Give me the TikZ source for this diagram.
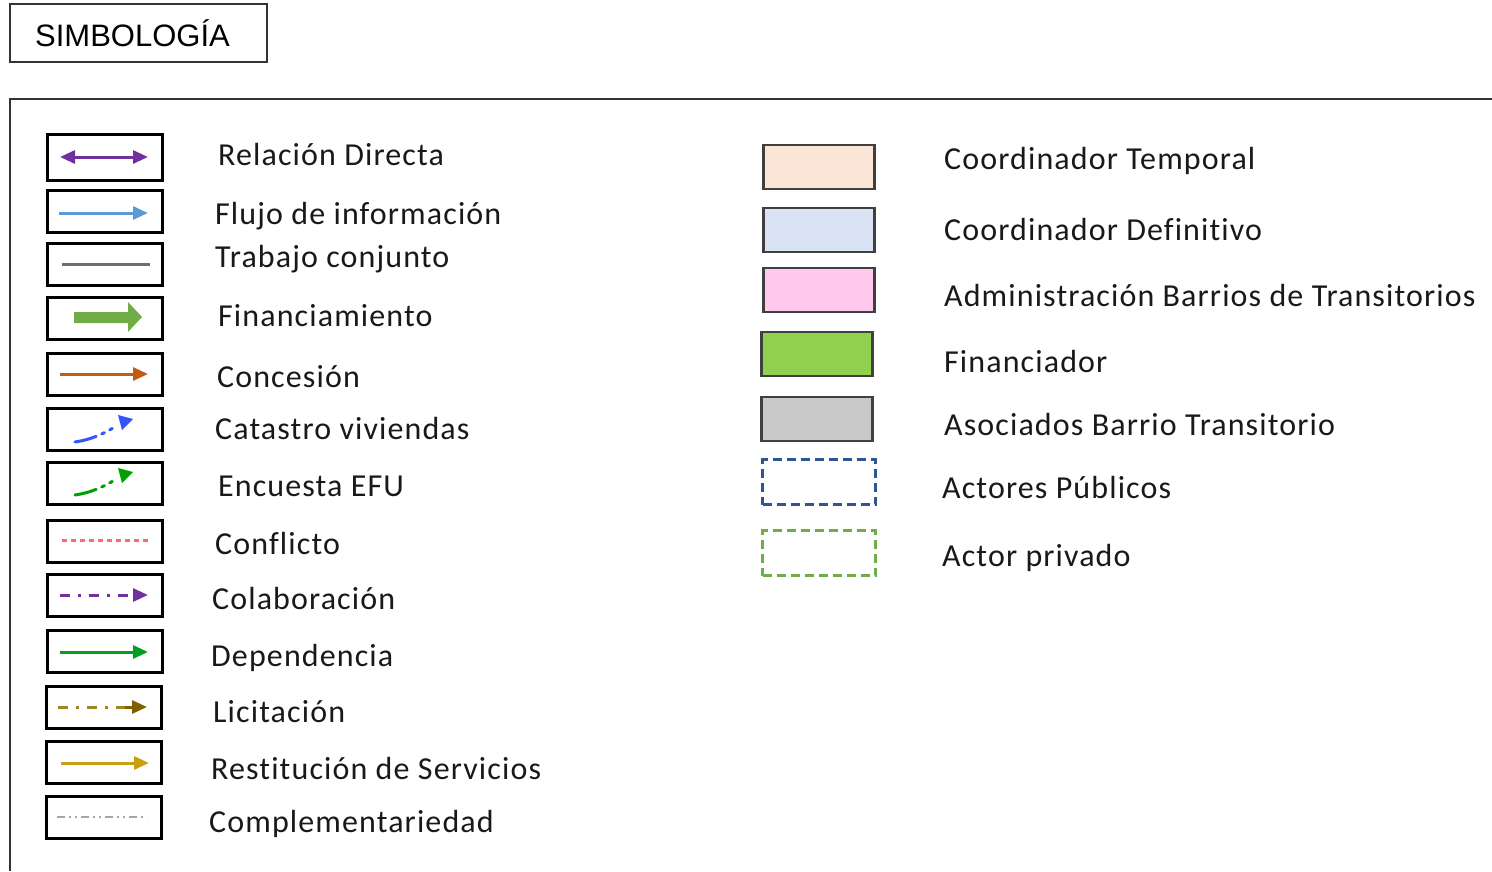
\documentclass[tikz,border=0pt]{standalone}
\usepackage{fontspec}
\setmainfont{Carlito}[LetterSpace=3.5, Ligatures=NoCommon]
\newfontfamily\arialf{Liberation Sans}
\usetikzlibrary{arrows.meta}
\definecolor{cpurple}{HTML}{7030A0}
\definecolor{cblue}{HTML}{5B9BD5}
\definecolor{cgray}{HTML}{6E6E6E}
\definecolor{cgreen}{HTML}{70AD47}
\definecolor{corange}{HTML}{C55A11}
\definecolor{cbrightblue}{HTML}{3355FF}
\definecolor{cdgreen}{HTML}{00A000}
\definecolor{cred}{HTML}{FF6B6B}
\definecolor{cgreen2}{HTML}{00A020}
\definecolor{colive}{HTML}{A08528}
\definecolor{cbrown}{HTML}{7F6000}
\definecolor{cgold}{HTML}{C9A010}
\definecolor{clgray}{HTML}{A6A6A6}
\definecolor{fpeach}{HTML}{FBE5D6}
\definecolor{flblue}{HTML}{DAE3F3}
\definecolor{fpink}{HTML}{FFC9EE}
\definecolor{fgreen}{HTML}{92D050}
\definecolor{fgray}{HTML}{C9C9C9}
\definecolor{dblue}{HTML}{2F5597}
\begin{document}
\begin{tikzpicture}[x=1pt,y=-1pt,
  iconbox/.style={draw=black, line width=3pt, minimum width=115pt, minimum height=42pt, inner sep=0pt},
  colbox/.style={draw=black!75, line width=2.5pt, minimum width=111pt, minimum height=44pt, inner sep=0pt},
  dbox/.style={line width=3pt, dash pattern=on 9pt off 5pt, minimum width=113pt, minimum height=45pt, inner sep=0pt},
  lbl/.style={anchor=base west, inner sep=0pt, font=\fontsize{32}{38}\selectfont, text=black!90},
  ln/.style={line width=3pt},
  tip/.style={-{Triangle[length=15pt,width=13pt]}},
]
\useasboundingbox (0,0) rectangle (1492,871);
\fill[white] (0,0) rectangle (1492,871);

% title
\node[draw=black!80, line width=2pt, minimum width=257pt, minimum height=58pt, inner sep=0pt,
  font=\arialf\fontsize{31}{36}\selectfont] (title) at (138.5,33) {\hspace*{-12pt}SIMBOLOGÍA};

% main frame
\coordinate (frTR) at (1492,99);
\coordinate (frTL) at (10,99);
\coordinate (frBL) at (10,871);
\draw[black!80, line width=2pt] (frTR) -- (frTL) -- (frBL);

% left icon boxes
\node[iconbox, minimum height=46pt] (b1) at (105,157) {};
\node[iconbox] (b2) at (105,211) {};
\node[iconbox] (b3) at (105,264) {};
\node[iconbox] (b4) at (105,318) {};
\node[iconbox] (b5) at (105,374) {};
\node[iconbox] (b6) at (105,429) {};
\node[iconbox] (b7) at (105,483) {};
\node[iconbox] (b8) at (105,541) {};
\node[iconbox] (b9) at (105,595) {};
\node[iconbox] (b10) at (105,651) {};
\node[iconbox] (b11) at (104,707) {};
\node[iconbox] (b12) at (104,762) {};
\node[iconbox] (b13) at (104,817) {};

% icons
\draw[ln, cpurple, {Triangle[length=15pt,width=13pt]}-{Triangle[length=15pt,width=13pt]}] (60,157) -- (148,157);
\draw[ln, cblue, tip] (59,213) -- (148,213);
\draw[ln, cgray] (62,264) -- (150,264);
\fill[cgreen] (74,312) -- (128,312) -- (128,302) -- (142,317) -- (128,332) -- (128,323) -- (74,323) -- cycle;
\draw[ln, corange, tip] (60,374) -- (148,374);
\draw[ln, cbrightblue, dash pattern=on 22pt off 6pt on 3pt off 6pt on 3pt off 40pt, line cap=round]
  (75,442) .. controls (95,439) and (108,431) .. (120,424);
\fill[cbrightblue] (133,419) -- (118,415) -- (122,430) -- cycle;
\draw[ln, cdgreen, dash pattern=on 22pt off 6pt on 3pt off 6pt on 3pt off 40pt, line cap=round]
  (75,495) .. controls (95,492) and (108,484) .. (120,477);
\fill[cdgreen] (133,472) -- (118,468) -- (122,483) -- cycle;
\draw[ln, cred, dash pattern=on 5pt off 4pt] (62,540) -- (151,540);
\draw[ln, cpurple, tip, dash pattern=on 10pt off 8pt on 3pt off 8pt] (60,595) -- (148,595);
\draw[ln, cgreen2, tip] (60,652) -- (148,652);
\draw[ln, colive, dash pattern=on 10pt off 8pt on 3pt off 8pt] (58,707) -- (128,707);
\draw[ln, cbrown, tip] (125,707) -- (147,707);
\draw[ln, cgold, tip] (61,763) -- (149,763);
\draw[line width=2.5pt, clgray, dash pattern=on 8pt off 4pt on 2pt off 4pt on 2pt off 4pt] (57,817) -- (147,817);

% left labels
\node[lbl] (l1) at (218,165) {Relación Directa};
\node[lbl] (l2) at (215,224) {Flujo de información};
\node[lbl] (l3) at (215,267) {Trabajo conjunto};
\node[lbl] (l4) at (218,326) {Financiamiento};
\node[lbl] (l5) at (217,387) {Concesión};
\node[lbl] (l6) at (215,439) {Catastro viviendas};
\node[lbl] (l7) at (218,496) {Encuesta EFU};
\node[lbl] (l8) at (215,554) {Conflicto};
\node[lbl] (l9) at (212,609) {Colaboración};
\node[lbl] (l10) at (211,666) {Dependencia};
\node[lbl] (l11) at (213,722) {Licitación};
\node[lbl] (l12) at (211,779) {Restitución de Servicios};
\node[lbl] (l13) at (209,832) {Complementariedad};

% right colour boxes
\node[colbox, fill=fpeach] (r1) at (819,167) {};
\node[colbox, fill=flblue] (r2) at (819,230) {};
\node[colbox, fill=fpink] (r3) at (819,290) {};
\node[colbox, fill=fgreen] (r4) at (817,354) {};
\node[colbox, fill=fgray] (r5) at (817,419) {};
\node[dbox, draw=dblue] (r6) at (819,482) {};
\node[dbox, draw=cgreen] (r7) at (819,553) {};

% right labels
\node[lbl] (t1) at (944,169) {Coordinador Temporal};
\node[lbl] (t2) at (944,240) {Coordinador Definitivo};
\node[lbl] (t3) at (944,306) {Administración Barrios de Transitorios};
\node[lbl] (t4) at (944,372) {Financiador};
\node[lbl] (t5) at (944,435) {Asociados Barrio Transitorio};
\node[lbl] (t6) at (942,498) {Actores Públicos};
\node[lbl] (t7) at (942,566) {Actor privado};
\end{tikzpicture}
\end{document}
